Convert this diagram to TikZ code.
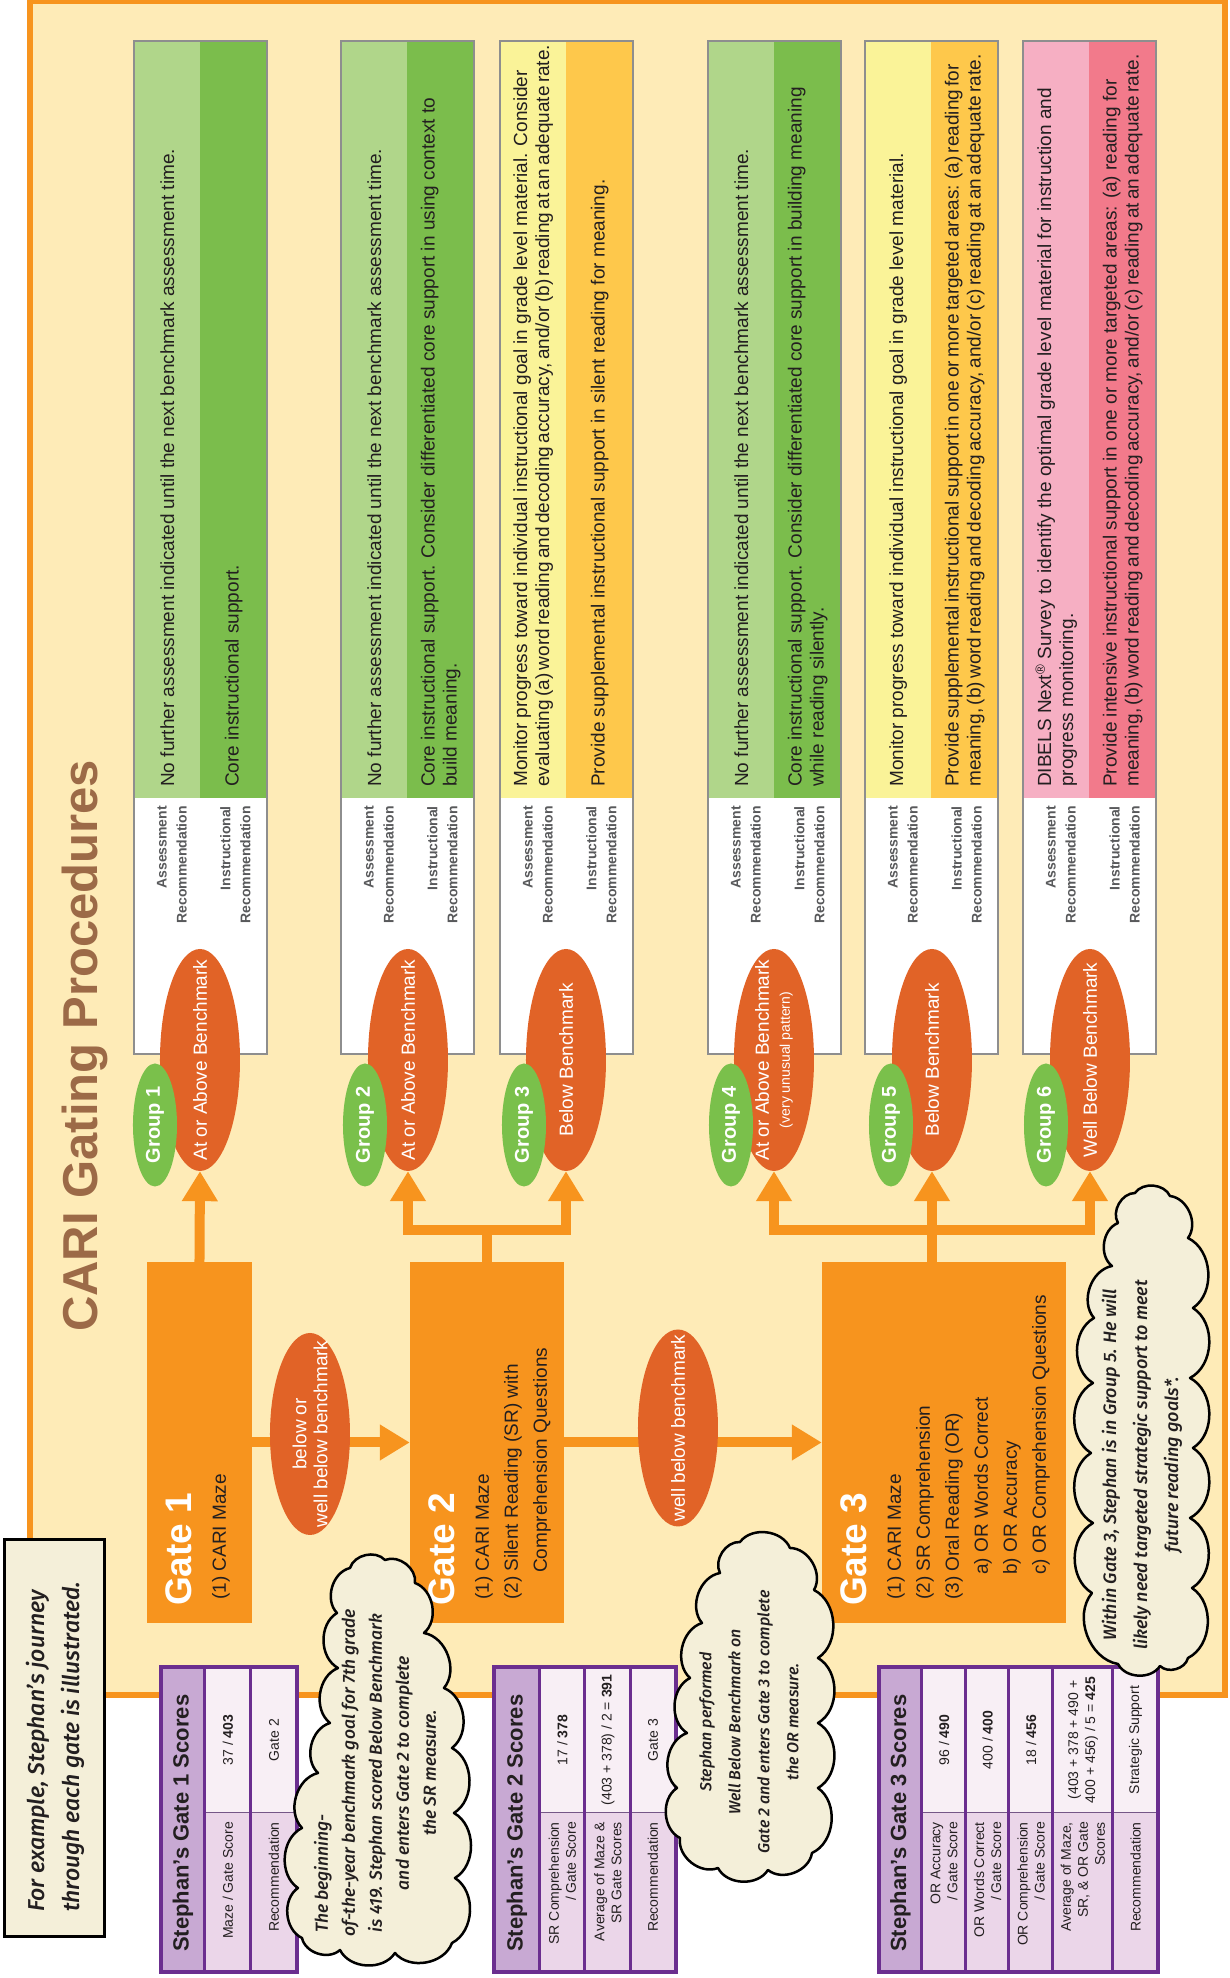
\documentclass[tikz,border=0pt]{standalone}
\usepackage{fontspec}
\setmainfont{Liberation Sans}
\newfontfamily\handfont{Fira Sans Medium Italic}
\usepackage{tikz}
\usetikzlibrary{shapes.geometric,arrows.meta,calc}

\definecolor{panelcream}{HTML}{FEEBB7}
\definecolor{gateorange}{HTML}{F7941E}
\definecolor{benchorange}{HTML}{E16327}
\definecolor{groupgreen}{HTML}{7AC04B}
\definecolor{lightgreen}{HTML}{B0D68A}
\definecolor{darkgreen}{HTML}{7BBD4C}
\definecolor{lightyellow}{HTML}{FAF398}
\definecolor{darkyellow}{HTML}{FEC84B}
\definecolor{lightpink}{HTML}{F6AFC3}
\definecolor{darkpink}{HTML}{F27A8B}
\definecolor{boxgray}{HTML}{8E8E8E}
\definecolor{titlebrown}{HTML}{9C6A47}
\definecolor{tablepurple}{HTML}{6B2E8F}
\definecolor{tablehead}{HTML}{C8A9D3}
\definecolor{tablelabel}{HTML}{EBD6E9}
\definecolor{tablevalue}{HTML}{F8EFF5}
\definecolor{notecream}{HTML}{F4EFD9}
\definecolor{inkgray}{HTML}{231F20}
\definecolor{labelgray}{HTML}{58595B}

% narrower word spaces for the longest lines
\newcommand{\tightsp}{\spaceskip=3.4pt\relax}

\begin{document}
\begin{tikzpicture}[x=1pt, y=1pt, rotate=90, transform shape,
    fatarrow/.style={draw=gateorange, line width=10pt, line join=miter, -{Triangle[length=30pt,width=34pt]}},
    gatebox/.style={rectangle, fill=gateorange, minimum width=361pt, inner sep=0pt},
    gatetitle/.style={anchor=base west, inner sep=0pt, text=white, font=\fontsize{37}{40}\selectfont\bfseries},
    gatetext/.style={anchor=north west, inner sep=0pt, align=left, text=inkgray, font=\fontsize{19}{29}\selectfont},
    bench/.style={ellipse, fill=benchorange, inner sep=0pt, minimum height=80pt},
    benchtext/.style={inner sep=0pt, text=white, align=center, font=\fontsize{19}{21}\selectfont},
    grp/.style={ellipse, fill=groupgreen, inner sep=0pt, minimum width=123pt, minimum height=44pt, text=white, font=\fontsize{20}{22}\selectfont\bfseries},
    rectext/.style={anchor=west, inner sep=0pt, align=left, text=inkgray, font=\fontsize{19}{22}\selectfont},
    reclabel/.style={anchor=east, inner sep=0pt, align=right, text=labelgray, font=\fontsize{14}{20}\selectfont\bfseries},
    thoughtline/.style={draw=black, line width=2.5pt, fill=notecream, line join=round, every to/.style={bend right=60}},
    thoughttext/.style={inner sep=0pt, align=center, text=inkgray, font=\handfont\fontsize{17.5}{27}\selectfont},
    thead/.style={anchor=west, inner sep=0pt, text=inkgray, font=\fontsize{22}{24}\selectfont\bfseries},
    tlabel/.style={anchor=east, inner sep=0pt, align=right, text=inkgray, font=\fontsize{14}{17}\selectfont},
    tvalue/.style={inner sep=0pt, align=center, text=inkgray, font=\fontsize{14}{17}\selectfont}]

    \useasboundingbox (0,0) rectangle (1978,1230);

    % Panel
    \draw[draw=gateorange, line width=6pt, fill=panelcream] (283,5) rectangle (1977,1200);
    \node[anchor=base west, inner sep=0pt, text=titlebrown, font=\fontsize{49}{50}\selectfont\bfseries] (title) at (646,1132) {CARI Gating Procedures};

    % Group 1 recommendations
    \begin{scope}[shift={(924,963)}]
        \fill[white] (0,0) rectangle (1013,133);
        \fill[lightgreen] (256,66.5) rectangle (1013,133);
        \fill[darkgreen] (256,0) rectangle (1013,66.5);
        \draw[boxgray, line width=1.5pt] (0,0) rectangle (1013,133);
        \node[reclabel] (a1) at (248,95) {Assessment\\Recommendation};
        \node[reclabel] (i1) at (248,31.5) {Instructional\\Recommendation};
        \node[rectext] (a1t) at (267,99.75) {No further assessment indicated until the next benchmark assessment time.};
        \node[rectext] (i1t) at (267,33.25) {Core instructional support.};
    \end{scope}

    % Group 2 recommendations
    \begin{scope}[shift={(924,756)}]
        \fill[white] (0,0) rectangle (1013,133);
        \fill[lightgreen] (256,66.5) rectangle (1013,133);
        \fill[darkgreen] (256,0) rectangle (1013,66.5);
        \draw[boxgray, line width=1.5pt] (0,0) rectangle (1013,133);
        \node[reclabel] (a2) at (248,95) {Assessment\\Recommendation};
        \node[reclabel] (i2) at (248,31.5) {Instructional\\Recommendation};
        \node[rectext] (a2t) at (267,99.75) {No further assessment indicated until the next benchmark assessment time.};
        \node[rectext] (i2t) at (267,33.25) {Core instructional support. Consider differentiated core support in using context to\\build meaning.};
    \end{scope}

    % Group 3 recommendations
    \begin{scope}[shift={(924,597)}]
        \fill[white] (0,0) rectangle (1013,133);
        \fill[lightyellow] (256,66.5) rectangle (1013,133);
        \fill[darkyellow] (256,0) rectangle (1013,66.5);
        \draw[boxgray, line width=1.5pt] (0,0) rectangle (1013,133);
        \node[reclabel] (a3) at (248,95) {Assessment\\Recommendation};
        \node[reclabel] (i3) at (248,31.5) {Instructional\\Recommendation};
        \node[rectext] (a3t) at (267,99.75) {Monitor progress toward individual instructional goal in grade level material. Consider\\\tightsp evaluating (a) word reading and decoding accuracy, and/or (b) reading at an adequate rate.};
        \node[rectext] (i3t) at (267,33.25) {Provide supplemental instructional support in silent reading for meaning.};
    \end{scope}

    % Group 4 recommendations
    \begin{scope}[shift={(924,389)}]
        \fill[white] (0,0) rectangle (1013,133);
        \fill[lightgreen] (256,66.5) rectangle (1013,133);
        \fill[darkgreen] (256,0) rectangle (1013,66.5);
        \draw[boxgray, line width=1.5pt] (0,0) rectangle (1013,133);
        \node[reclabel] (a4) at (248,95) {Assessment\\Recommendation};
        \node[reclabel] (i4) at (248,31.5) {Instructional\\Recommendation};
        \node[rectext] (a4t) at (267,99.75) {No further assessment indicated until the next benchmark assessment time.};
        \node[rectext] (i4t) at (267,33.25) {Core instructional support. Consider differentiated core support in building meaning\\while reading silently.};
    \end{scope}

    % Group 5 recommendations
    \begin{scope}[shift={(924,232)}]
        \fill[white] (0,0) rectangle (1013,133);
        \fill[lightyellow] (256,66.5) rectangle (1013,133);
        \fill[darkyellow] (256,0) rectangle (1013,66.5);
        \draw[boxgray, line width=1.5pt] (0,0) rectangle (1013,133);
        \node[reclabel] (a5) at (248,95) {Assessment\\Recommendation};
        \node[reclabel] (i5) at (248,31.5) {Instructional\\Recommendation};
        \node[rectext] (a5t) at (267,99.75) {Monitor progress toward individual instructional goal in grade level material.};
        \node[rectext] (i5t) at (267,33.25) {\tightsp Provide supplemental instructional support in one or more targeted areas: (a) reading for\\\tightsp meaning, (b) word reading and decoding accuracy, and/or (c) reading at an adequate rate.};
    \end{scope}

    % Group 6 recommendations
    \begin{scope}[shift={(924,74)}]
        \fill[white] (0,0) rectangle (1013,133);
        \fill[lightpink] (256,66.5) rectangle (1013,133);
        \fill[darkpink] (256,0) rectangle (1013,66.5);
        \draw[boxgray, line width=1.5pt] (0,0) rectangle (1013,133);
        \node[reclabel] (a6) at (248,95) {Assessment\\Recommendation};
        \node[reclabel] (i6) at (248,31.5) {Instructional\\Recommendation};
        \node[rectext] (a6t) at (267,99.75) {DIBELS Next\textsuperscript{\textregistered} Survey to identify the optimal grade level material for instruction and\\progress monitoring.};
        \node[rectext] (i6t) at (267,33.25) {Provide intensive instructional support in one or more targeted areas: (a) reading for\\\tightsp meaning, (b) word reading and decoding accuracy, and/or (c) reading at an adequate rate.};
    \end{scope}

    % Gates
    \node[gatebox, minimum height=105pt] (g1box) at (535.5,1030.5) {};
    \node[gatetitle] (g1title) at (372,1038) {Gate 1};
    \node[gatetext] (g1text) at (378,1018) {(1) CARI Maze};

    \node[gatebox, minimum height=154pt] (g2box) at (535.5,743) {};
    \node[gatetitle] (g2title) at (372,775) {Gate 2};
    \node[gatetext] (g2text) at (378,755) {(1) CARI Maze\\(2) Silent Reading (SR) with\\\hspace*{27pt}Comprehension Questions};

    \node[gatebox, minimum height=244pt] (g3box) at (535.5,286) {};
    \node[gatetitle] (g3title) at (372,363) {Gate 3};
    \node[gatetext] (g3text) at (378,343) {(1) CARI Maze\\(2) SR Comprehension\\(3) Oral Reading (OR)\\\hspace*{25pt}a) OR Words Correct\\\hspace*{25pt}b) OR Accuracy\\\hspace*{25pt}c) OR Comprehension Questions};

    % Gate to gate
    \draw[fatarrow] (g1box.south) -- (g2box.north);
    \node[bench, minimum width=202pt] (b12) at (544,920) {};
    \node[benchtext] (b12text) at (b12.center) {below or\\well below benchmark};
    \draw[fatarrow] (g2box.south) -- (g3box.north);
    \node[bench, minimum width=197pt] (b23) at (550,552) {};
    \node[benchtext] (b23text) at (b23.center) {well below benchmark};

    % Benchmark results
    \node[bench, minimum width=222pt] (o1) at (918,1030) {};
    \node[bench, minimum width=222pt] (o2) at (918,822) {};
    \node[bench, minimum width=222pt] (o3) at (918,664) {};
    \node[bench, minimum width=222pt] (o4) at (918,456) {};
    \node[bench, minimum width=222pt] (o5) at (918,298) {};
    \node[bench, minimum width=222pt] (o6) at (918,140) {};
    \node[benchtext] (o1text) at (o1.center) {At or Above Benchmark};
    \node[benchtext] (o2text) at (o2.center) {At or Above Benchmark};
    \node[benchtext] (o3text) at (o3.center) {Below Benchmark};
    \node[benchtext] (o4text) at (o4.center) {At or Above Benchmark\\{\fontsize{14}{15}\selectfont (very unusual pattern)}};
    \node[benchtext] (o5text) at (o5.center) {Below Benchmark};
    \node[benchtext] (o6text) at (o6.center) {Well Below Benchmark};

    \node[grp] (grp1) at (853,1075) {Group 1};
    \node[grp] (grp2) at (853,865) {Group 2};
    \node[grp] (grp3) at (853,706) {Group 3};
    \node[grp] (grp4) at (853,499) {Group 4};
    \node[grp] (grp5) at (853,339) {Group 5};
    \node[grp] (grp6) at (853,184) {Group 6};

    % Gate to groups
    \draw[fatarrow] (g1box.east) -- (o1.west);
    \draw[fatarrow] (g2box.east) -- ++(32,0) |- (o2.west);
    \draw[fatarrow] (g2box.east) -- ++(32,0) |- (o3.west);
    \draw[fatarrow] (o5.west -| g3box.east) -- (o5.west);
    \draw[fatarrow] (o5.west -| g3box.east) -- ++(32,0) |- (o4.west);
    \draw[fatarrow] (o5.west -| g3box.east) -- ++(32,0) |- (o6.west);

    % Example note
    \node[draw=black, line width=3pt, fill=notecream, minimum width=397pt, minimum height=100pt, inner sep=0pt] (ex) at (239.5,1175) {};
    \node[anchor=west, inner sep=0pt, align=left, text=inkgray, font=\handfont\fontsize{23}{35}\selectfont] (extext) at (66,1175) {For example, Stephan’s journey\\through each gate is illustrated.};

    % Gate 1 scores
    \begin{scope}[shift={(6,933)}]
        \fill[tablehead] (0,92) rectangle (305,136);
        \fill[tablelabel] (0,0) rectangle (159,92);
        \fill[tablevalue] (159,0) rectangle (305,92);
        \draw[tablepurple!50!gray, line width=1pt] (159,0) -- (159,92);
        \draw[tablepurple, line width=3pt] (0,46) -- (305,46) (0,92) -- (305,92);
        \draw[tablepurple, line width=4.5pt] (0,0) rectangle (305,136);
        \node[thead] (t1head) at (20,114) {Stephan’s Gate 1 Scores};
        \node[tlabel] (t1l1) at (150,69) {Maze / Gate Score};
        \node[tvalue] (t1v1) at (232,69) {37 / \textbf{403}};
        \node[tlabel] (t1l2) at (150,23) {Recommendation};
        \node[tvalue] (t1v2) at (232,23) {Gate 2};
    \end{scope}

    % Gate 2 scores
    \begin{scope}[shift={(6,554)}]
        \fill[tablehead] (0,136) rectangle (305,182);
        \fill[tablelabel] (0,0) rectangle (159,136);
        \fill[tablevalue] (159,0) rectangle (305,136);
        \draw[tablepurple!50!gray, line width=1pt] (159,0) -- (159,136);
        \draw[tablepurple, line width=3pt] (0,45.5) -- (305,45.5) (0,91) -- (305,91) (0,136) -- (305,136);
        \draw[tablepurple, line width=4.5pt] (0,0) rectangle (305,182);
        \node[thead] (t2head) at (20,159) {Stephan’s Gate 2 Scores};
        \node[tlabel] (t2l1) at (150,113.5) {SR Comprehension\\/ Gate Score};
        \node[tvalue] (t2v1) at (232,113.5) {17 / \textbf{378}};
        \node[tlabel] (t2l2) at (150,68) {Average of Maze \&\\SR Gate Scores};
        \node[tvalue] (t2v2) at (232,68) {(403 + 378) / 2 = \textbf{391}};
        \node[tlabel] (t2l3) at (150,23) {Recommendation};
        \node[tvalue] (t2v3) at (232,23) {Gate 3};
    \end{scope}

    % Gate 3 scores
    \begin{scope}[shift={(6,72)}]
        \fill[tablehead] (0,236) rectangle (305,279);
        \fill[tablelabel] (0,0) rectangle (159,236);
        \fill[tablevalue] (159,0) rectangle (305,236);
        \draw[tablepurple!50!gray, line width=1pt] (159,0) -- (159,236);
        \draw[tablepurple, line width=3pt] (0,45) -- (305,45) (0,105) -- (305,105) (0,149) -- (305,149) (0,192) -- (305,192) (0,236) -- (305,236);
        \draw[tablepurple, line width=4.5pt] (0,0) rectangle (305,279);
        \node[thead] (t3head) at (20,257.5) {Stephan’s Gate 3 Scores};
        \node[tlabel] (t3l1) at (150,214) {OR Accuracy\\/ Gate Score};
        \node[tvalue] (t3v1) at (232,214) {96 / \textbf{490}};
        \node[tlabel] (t3l2) at (150,170.5) {OR Words Correct\\/ Gate Score};
        \node[tvalue] (t3v2) at (232,170.5) {400 / \textbf{400}};
        \node[tlabel] (t3l3) at (150,127) {OR Comprehension\\/ Gate Score};
        \node[tvalue] (t3v3) at (232,127) {18 / \textbf{456}};
        \node[tlabel] (t3l4) at (150,75) {Average of Maze,\\SR, \& OR Gate\\Scores};
        \node[tvalue] (t3v4) at (232,75) {(403 + 378 + 490 +\\400 + 456) / 5 = \textbf{425}};
        \node[tlabel] (t3l5) at (150,22.5) {Recommendation};
        \node[tvalue] (t3v5) at (232,22.5) {Strategic Support};
    \end{scope}

    % Thought cloud 1
    \draw[thoughtline] (35,778) to (100,775) to (165,776) to (230,778) to (290,786) to (345,806)
        to (395,815) to (418,845) to (410,880) to (365,893) to (310,892) to (255,900) to (205,912)
        to (150,928) to (90,932) to (40,928) to (28,890) to (25,835) to (35,778) -- cycle;
    \node[thoughttext] (c1text) at (205,855) {\makebox[320pt][l]{The beginning-}\\of-the-year benchmark goal for 7th grade\\is 419. Stephan scored Below Benchmark\\and enters Gate 2 to complete\\the SR measure.};

    % Thought cloud 2
    \draw[thoughtline] (125,418) to (190,412) to (255,412) to (320,412) to (388,416) to (430,440)
        to (436,490) to (405,510) to (355,528) to (300,540) to (245,543) to (190,553) to (140,550)
        to (110,512) to (108,462) to (125,418) -- cycle;
    \node[thoughttext, font=\handfont\fontsize{16}{29}\selectfont] (c2text) at (256,481) {Stephan performed\\Well Below Benchmark on\\Gate 2 and enters Gate 3 to complete\\the OR measure.};

    % Thought cloud 3
    \draw[thoughtline] (320,42) to (390,38) to (460,40) to (530,37) to (600,40) to (670,37) to (740,42)
        to (782,60) to (785,95) to (755,112) to (712,118) to (660,136) to (595,137) to (525,139)
        to (455,137) to (385,138) to (314,112) to (312,70) to (320,42) -- cycle;
    \node[thoughttext, font=\handfont\fontsize{18}{31}\selectfont] (c3text) at (513,88) {Within Gate 3, Stephan is in Group 5. He will\\likely need targeted strategic support to meet\\future reading goals*.};

\end{tikzpicture}
\end{document}
